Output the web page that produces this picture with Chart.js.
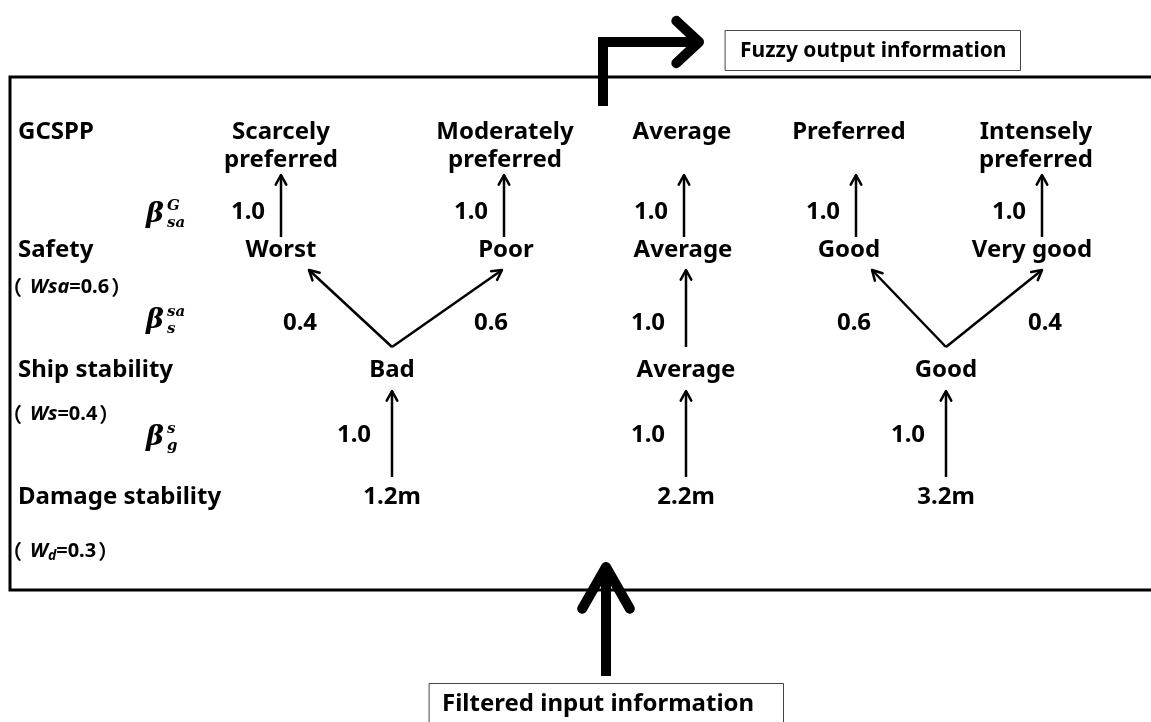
<!DOCTYPE html>
<html>
<head>
<meta charset="utf-8">
<script src="https://cdn.jsdelivr.net/npm/chart.js@4.4.0/dist/chart.umd.min.js"></script>
<style>
html, body { margin: 0; padding: 0; background: #fff; }
#wrap { width: 1151px; height: 722px; }
</style>
</head>
<body>
<div id="wrap"><canvas id="chart0"></canvas></div>
<script>
// ---- data ----
const levelNames = ['GCSPP', 'Safety', 'Ship stability', 'Damage stability'];
const outputGrades = [['Scarcely', 'preferred'], ['Moderately', 'preferred'], ['Average'], ['Preferred'], ['Intensely', 'preferred']];
const safetyGrades = ['Worst', 'Poor', 'Average', 'Good', 'Very good'];
const stabilityGrades = ['Bad', 'Average', 'Good'];
const damageInputs = ['1.2m', '2.2m', '3.2m'];
const degSafetyToOutput = [1.0, 1.0, 1.0, 1.0, 1.0];
// [stability grade, safety grade, degree]
const linksStabilityToSafety = [[0, 0, 0.4], [0, 1, 0.6], [1, 2, 1.0], [2, 3, 0.6], [2, 4, 0.4]];
const degDamageToStability = [1.0, 1.0, 1.0];
const weightNames = ['sa', 's', 'd'];
const weightValues = [0.6, 0.4, 0.3];

// ---- layout (axis units = pixels) ----
const rowY = { out1: 132, out2: 160, safety: 250, stab: 370, dmg: 497 };
const outX = [281, 505, 682, 849, 1036];
const safetyX = [281, 506, 683, 849, 1032];
const safetyArrowX = [281, 504, 684, 856, 1042];
const safetyInX = [309, 502, 686, 872, 1042];
const stabX = [392, 686, 946];
const leftX = 18;

const font = '"Noto Sans", "DejaVu Sans", sans-serif';

function line(pts, w, head) {
    return {
        data: pts,
        showLine: true,
        pointRadius: 0,
        borderColor: '#000',
        backgroundColor: '#000',
        borderWidth: w,
        head: head
    };
}

var datasets = [];
// frame and the two big flow arrows
datasets.push(line([{x: 1160, y: 77}, {x: 10, y: 77}, {x: 10, y: 590}, {x: 1160, y: 590}], 3, null));
datasets.push(line([{x: 603, y: 106}, {x: 603, y: 42}, {x: 699, y: 42}], 10, {len: 31, ang: 0.75, w: 10}));
datasets.push(line([{x: 606, y: 676}, {x: 606, y: 567}], 10, {len: 48, ang: 0.52, w: 10}));
// safety -> output
safetyArrowX.forEach(function (x) {
    datasets.push(line([{x: x, y: 237}, {x: x, y: 175}], 2.5, {len: 11, ang: 0.5, w: 2.5}));
});
// stability -> safety
linksStabilityToSafety.forEach(function (l) {
    datasets.push(line([{x: stabX[l[0]], y: 347}, {x: safetyInX[l[1]], y: 270}], 2.5, {len: 11, ang: 0.5, w: 2.5}));
});
// damage -> stability
stabX.forEach(function (x) {
    datasets.push(line([{x: x, y: 477}, {x: x, y: 391}], 2.5, {len: 11, ang: 0.5, w: 2.5}));
});

function drawRich(ctx, segs, x, y) {
    segs.forEach(function (s) {
        ctx.font = s.f;
        ctx.fillText(s.t, x, y + (s.dy || 0));
        x += ctx.measureText(s.t).width + (s.gap || 0);
    });
}

const diagramPlugin = {
    id: 'diagram',
    afterDatasetsDraw(chart) {
        const ctx = chart.ctx;
        const sx = chart.scales.x, sy = chart.scales.y;
        const px = v => sx.getPixelForValue(v);
        const py = v => sy.getPixelForValue(v);
        ctx.save();
        ctx.strokeStyle = '#000';
        ctx.lineCap = 'round';
        ctx.lineJoin = 'round';
        // arrow heads
        chart.data.datasets.forEach(function (ds) {
            if (!ds.head) return;
            const n = ds.data.length;
            const a = ds.data[n - 2], b = ds.data[n - 1];
            const x1 = px(a.x), y1 = py(a.y), x2 = px(b.x), y2 = py(b.y);
            const t = Math.atan2(y1 - y2, x1 - x2);
            ctx.lineWidth = ds.head.w;
            ctx.beginPath();
            ctx.moveTo(x2 + ds.head.len * Math.cos(t + ds.head.ang), y2 + ds.head.len * Math.sin(t + ds.head.ang));
            ctx.lineTo(x2, y2);
            ctx.lineTo(x2 + ds.head.len * Math.cos(t - ds.head.ang), y2 + ds.head.len * Math.sin(t - ds.head.ang));
            ctx.stroke();
        });

        // info boxes
        ctx.lineWidth = 1;
        ctx.strokeStyle = '#444';
        ctx.strokeRect(px(725) + 0.5, py(30) + 0.5, px(1020) - px(725), py(70) - py(30));
        ctx.strokeRect(px(429) + 0.5, py(683) + 0.5, px(783) - px(429), py(730) - py(683));
        ctx.fillStyle = '#000';
        ctx.textBaseline = 'middle';
        ctx.textAlign = 'left';
        ctx.font = 'bold 21px ' + font;
        ctx.fillText('Fuzzy output information', px(740), py(51));
        ctx.font = 'bold 24px ' + font;
        ctx.fillText('Filtered input information', px(442), py(704));

        // level names
        ctx.font = 'bold 24px ' + font;
        [rowY.out1, rowY.safety, rowY.stab, rowY.dmg].forEach(function (y, i) {
            ctx.fillText(levelNames[i], px(leftX), py(y));
        });

        // weights
        const wy = [287, 414, 551];
        weightNames.forEach(function (w, i) {
            const sub = w === 'd';
            drawRich(ctx, [
                {t: '（', f: 'bold 20px "Noto Sans CJK SC", ' + font, gap: 8},
                {t: 'W', f: 'italic bold 20px ' + font},
                {t: w, f: (sub ? 'italic bold 14px ' : 'italic bold 20px ') + font, dy: sub ? 5 : 0},
                {t: '=' + weightValues[i].toFixed(1), f: 'bold 20px ' + font, gap: 2},
                {t: '）', f: 'bold 20px "Noto Sans CJK SC", ' + font}
            ], px(2), py(wy[i]));
        });

        // beta symbols
        const betas = [[215, 'G', 'sa'], [321, 'sa', 's'], [438, 's', 'g']];
        betas.forEach(function (b) {
            const x = px(146), y = py(b[0]);
            ctx.font = 'italic bold 27px "DejaVu Serif", serif';
            ctx.fillText('β', x, y);
            ctx.font = 'italic bold 15px "DejaVu Serif", serif';
            ctx.fillText(b[1], x + 21, y - 9);
            ctx.fillText(b[2], x + 21, y + 8);
        });

        // grade labels
        ctx.textAlign = 'center';
        ctx.font = 'bold 24px ' + font;
        outputGrades.forEach(function (g, i) {
            g.forEach(function (s, k) {
                ctx.fillText(s, px(outX[i]), py(k === 0 ? rowY.out1 : rowY.out2));
            });
        });
        safetyGrades.forEach(function (g, i) {
            ctx.fillText(g, px(safetyX[i]), py(rowY.safety));
        });
        stabilityGrades.forEach(function (g, i) {
            ctx.fillText(g, px(stabX[i]), py(rowY.stab));
        });
        damageInputs.forEach(function (g, i) {
            ctx.fillText(g, px(stabX[i]), py(rowY.dmg));
        });

        // degrees of belief
        degSafetyToOutput.forEach(function (d, i) {
            ctx.fillText(d.toFixed(1), px(safetyArrowX[i] - 33), py(212));
        });
        linksStabilityToSafety.forEach(function (l) {
            const from = stabX[l[0]], to = safetyInX[l[1]];
            let x;
            if (to < from) x = from - 92;
            else if (to > from) x = from + 99;
            else x = from - 38;
            ctx.fillText(l[2].toFixed(1), px(x), py(323));
        });
        degDamageToStability.forEach(function (d, i) {
            ctx.fillText(d.toFixed(1), px(stabX[i] - 38), py(435));
        });
        ctx.restore();
    }
};

new Chart(document.getElementById('chart0'), {
    type: 'scatter',
    data: { datasets: datasets },
    options: {
        responsive: true,
        maintainAspectRatio: false,
        animation: false,
        events: [],
        layout: { padding: 0 },
        plugins: { legend: { display: false }, tooltip: { enabled: false } },
        scales: {
            x: { type: 'linear', min: 0, max: 1151, display: false },
            y: { type: 'linear', min: 0, max: 722, reverse: true, display: false }
        }
    },
    plugins: [diagramPlugin]
});
</script>
</body>
</html>
